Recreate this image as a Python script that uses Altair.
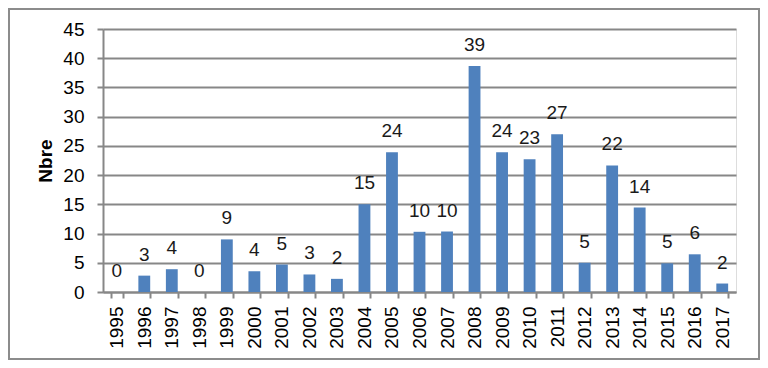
import altair as alt
import pandas as pd

years = [str(y) for y in range(1995, 2018)]
values = [0, 2.8, 3.9, 0, 9.0, 3.55, 4.7, 3.0, 2.25, 15.0, 23.9, 10.3, 10.35,
          38.65, 23.9, 22.7, 27.0, 5.0, 21.65, 14.45, 4.9, 6.45, 1.45]
labels = ["0", "3", "4", "0", "9", "4", "5", "3", "2", "15", "24", "10", "10",
          "39", "24", "23", "27", "5", "22", "14", "5", "6", "2"]
yticks = [0, 5, 10, 15, 20, 25, 30, 35, 40, 45]

df = pd.DataFrame({"year": years, "value": values, "label": labels})

FONT = "Liberation Sans"
GRAY = "#878787"

x = alt.X("year:N", sort=years, title=None,
          scale=alt.Scale(paddingInner=0.57, paddingOuter=0.285),
          axis=alt.Axis(labelAngle=270, labelFontSize=19, labelFont=FONT,
                        labelColor="#000000", tickBand="extent", tickSize=6,
                        tickWidth=2, tickColor=GRAY, domainColor=GRAY,
                        domainWidth=2, labelPadding=8, labelOverlap=False))
y = alt.Y("value:Q", title="Nbre",
          scale=alt.Scale(domain=[0, 45], nice=False),
          axis=alt.Axis(values=yticks, tickCount=10, labelOverlap=False,
                        labelFontSize=19, labelFont=FONT, labelColor="#000000",
                        tickSize=6, tickWidth=2, tickColor=GRAY,
                        domainColor=GRAY, domainWidth=2, grid=True,
                        gridColor=GRAY, gridWidth=2,
                        labelPadding=13, titleFont=FONT, titleFontSize=19,
                        titleFontWeight="bold", titleColor="#000000",
                        titleAngle=270, titleX=-58, titleY=131.5,
                        titleAlign="center", titleBaseline="middle"))

bars = alt.Chart(df).mark_bar(color="#4F81BD").encode(x=x, y=y)
text = alt.Chart(df).mark_text(dy=-21, baseline="middle", fontSize=19,
                               font=FONT, color="#1a1a1a").encode(
    x=alt.X("year:N", sort=years), y="value:Q", text="label:N")

border = alt.Chart(alt.Data(values=[{}])).mark_rect(
    filled=False, stroke="#8c8c8c", strokeWidth=2).encode(
    x=alt.value(-94), x2=alt.value(656), y=alt.value(-20), y2=alt.value(330))

chart = alt.layer(bars, text, border).properties(
    width=633, height=263,
    autosize=alt.AutoSizeParams(type="none"),
    padding={"left": 95, "top": 21, "right": 24, "bottom": 68},
).configure_view(stroke=None).configure(background="white")

chart.save("out.html", embed_options={"renderer": "svg", "actions": False})
